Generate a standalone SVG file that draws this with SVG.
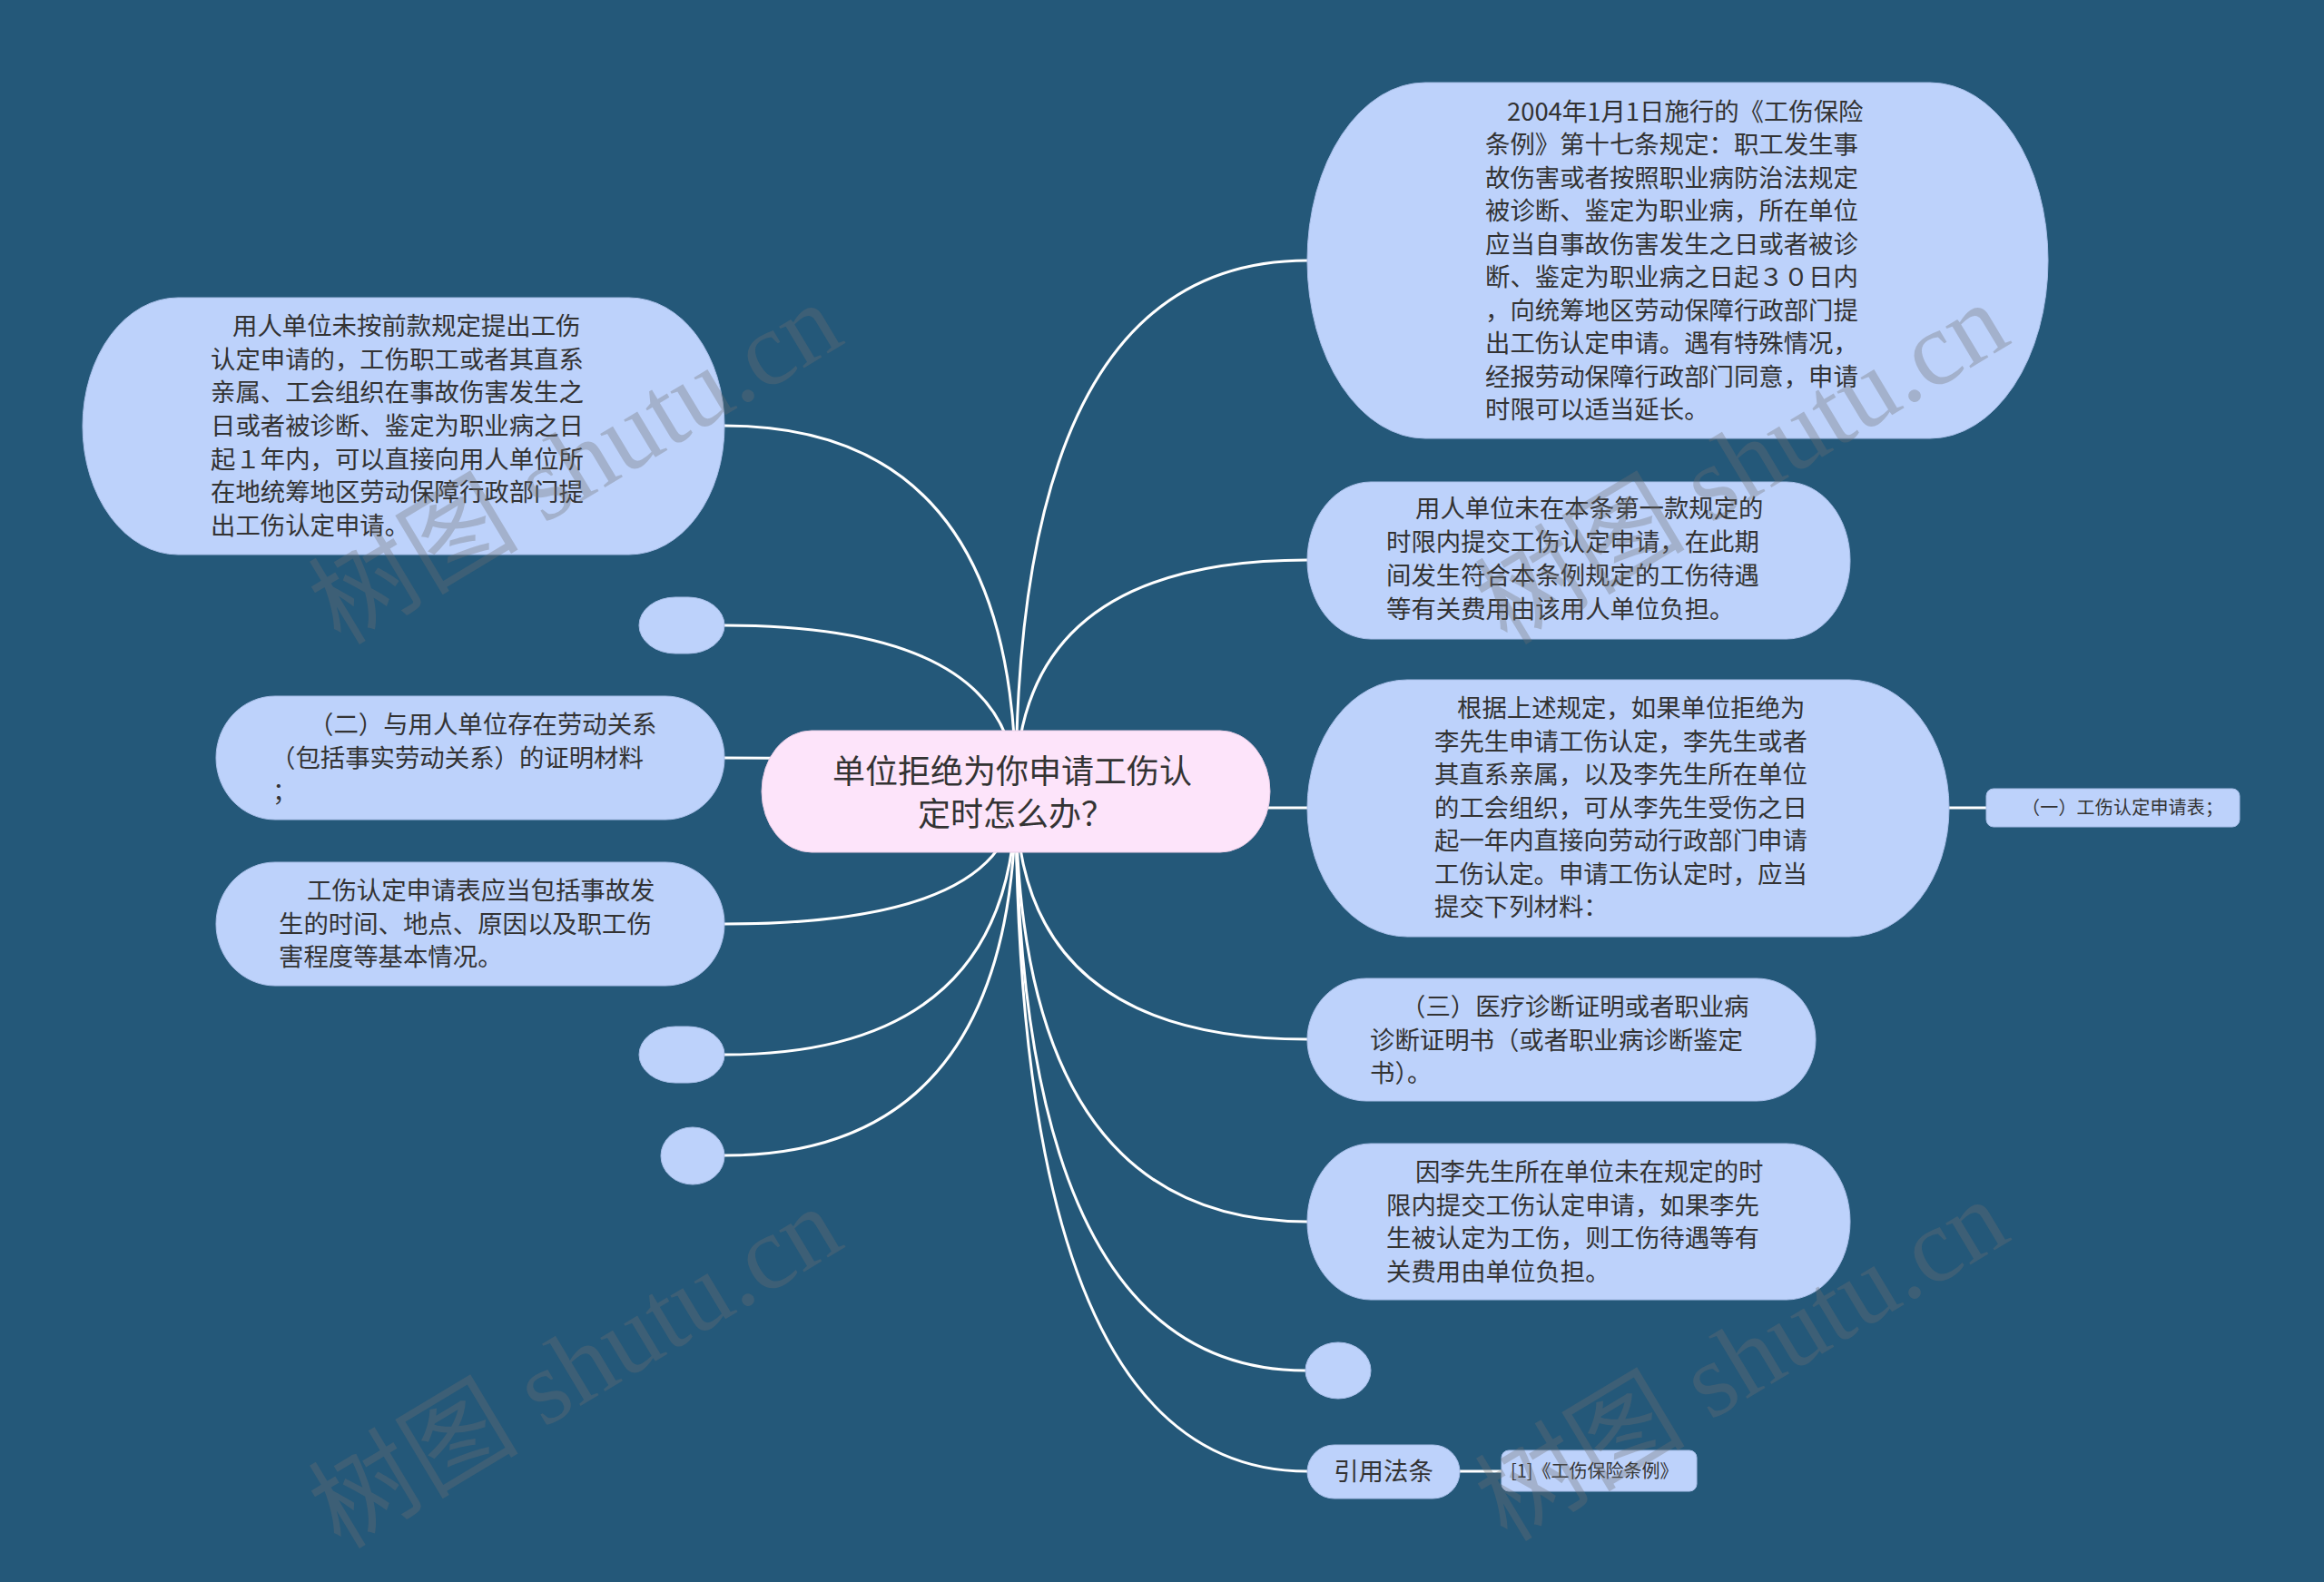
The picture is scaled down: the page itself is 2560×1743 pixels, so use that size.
<svg xmlns="http://www.w3.org/2000/svg" width="2560" height="1743" viewBox="0 0 2560 1743">
<style>
.bg{fill:#245879}
.n{fill:#bdd2fb;stroke:#a9bfe9;stroke-width:1}
.root{fill:#fde4fa;stroke:#e9cde6;stroke-width:1}
.t{font-family:"Noto Sans CJK SC","Noto Sans",sans-serif;font-size:27.4px;fill:#333333}
.ts{font-family:"Noto Sans CJK SC","Noto Sans",sans-serif;font-size:20px;fill:#333333}
.tr{font-family:"Noto Sans CJK SC","Noto Sans",sans-serif;font-size:36px;fill:#333333;text-anchor:middle}
.c{fill:none;stroke:#ffffff;stroke-width:3}
.wm{font-family:"Liberation Serif","Noto Sans CJK SC",serif;font-size:116px;fill:#707070;opacity:0.33}
</style>
<rect class="bg" x="0" y="0" width="2560" height="1743"/>

<g id="connectors">
<path class="c" d="M1119,872 Q1119,287 1440,287"/>
<path class="c" d="M1119,872 Q1119,617 1440,617"/>
<path class="c" d="M1119,872 Q1119,890 1440,890"/>
<path class="c" d="M1119,872 Q1119,1145 1440,1145"/>
<path class="c" d="M1119,872 Q1119,1346 1440,1346"/>
<path class="c" d="M1119,872 Q1119,1510 1438,1510"/>
<path class="c" d="M1119,872 Q1119,1621 1440,1621"/>
<path class="c" d="M1119,872 Q1119,469 798,469"/>
<path class="c" d="M1119,872 Q1119,689 798,689"/>
<path class="c" d="M1119,872 Q1119,835 798,835"/>
<path class="c" d="M1119,872 Q1119,1018 798,1018"/>
<path class="c" d="M1119,872 Q1119,1162 798,1162"/>
<path class="c" d="M1119,872 Q1119,1273 798,1273"/>
<path class="c" d="M2147,890 L2188,890"/>
<path class="c" d="M1608,1621 L1654,1621"/>
</g>

<g id="node-tr">
<rect class="n" x="1440" y="91" width="816" height="392" rx="130" ry="196"/>
<text class="t">
<tspan x="1660" y="132.5">2004年1月1日施行的《工伤保险</tspan>
<tspan x="1636" y="169">条例》第十七条规定：职工发生事</tspan>
<tspan x="1636" y="205.5">故伤害或者按照职业病防治法规定</tspan>
<tspan x="1636" y="242">被诊断、鉴定为职业病，所在单位</tspan>
<tspan x="1636" y="278.5">应当自事故伤害发生之日或者被诊</tspan>
<tspan x="1636" y="315">断、鉴定为职业病之日起３０日内</tspan>
<tspan x="1636" y="351.5">，向统筹地区劳动保障行政部门提</tspan>
<tspan x="1636" y="388">出工伤认定申请。遇有特殊情况，</tspan>
<tspan x="1636" y="424.5">经报劳动保障行政部门同意，申请</tspan>
<tspan x="1636" y="461">时限可以适当延长。</tspan>
</text>
</g>

<g id="node-r2">
<rect class="n" x="1440" y="531" width="598" height="173" rx="70" ry="86.5"/>
<text class="t">
<tspan x="1559" y="570">用人单位未在本条第一款规定的</tspan>
<tspan x="1527" y="607">时限内提交工伤认定申请，在此期</tspan>
<tspan x="1527" y="644">间发生符合本条例规定的工伤待遇</tspan>
<tspan x="1527" y="681">等有关费用由该用人单位负担。</tspan>
</text>
</g>

<g id="node-r3">
<rect class="n" x="1440" y="749" width="707" height="283" rx="110" ry="141.5"/>
<text class="t">
<tspan x="1605" y="790">根据上述规定，如果单位拒绝为</tspan>
<tspan x="1580" y="826.5">李先生申请工伤认定，李先生或者</tspan>
<tspan x="1580" y="863">其直系亲属，以及李先生所在单位</tspan>
<tspan x="1580" y="899.5">的工会组织，可从李先生受伤之日</tspan>
<tspan x="1580" y="936">起一年内直接向劳动行政部门申请</tspan>
<tspan x="1580" y="972.5">工伤认定。申请工伤认定时，应当</tspan>
<tspan x="1580" y="1009">提交下列材料：</tspan>
</text>
</g>

<g id="node-r3a">
<rect class="n" x="2188" y="869" width="279" height="42" rx="8" ry="8"/>
<text class="ts" x="2227" y="897" textLength="222">（一）工伤认定申请表；</text>
</g>

<g id="node-r4">
<rect class="n" x="1440" y="1078" width="560" height="135" rx="65" ry="67.5"/>
<text class="t">
<tspan x="1543" y="1119">（三）医疗诊断证明或者职业病</tspan>
<tspan x="1509" y="1155.5">诊断证明书（或者职业病诊断鉴定</tspan>
<tspan x="1509" y="1192">书）。</tspan>
</text>
</g>

<g id="node-r5">
<rect class="n" x="1440" y="1260" width="598" height="172" rx="70" ry="86"/>
<text class="t">
<tspan x="1559" y="1301">因李先生所在单位未在规定的时</tspan>
<tspan x="1527" y="1337.5">限内提交工伤认定申请，如果李先</tspan>
<tspan x="1527" y="1374">生被认定为工伤，则工伤待遇等有</tspan>
<tspan x="1527" y="1410.5">关费用由单位负担。</tspan>
</text>
</g>

<g id="node-r6">
<rect class="n" x="1438" y="1479" width="72" height="62" rx="36" ry="31"/>
</g>

<g id="node-cite">
<rect class="n" x="1440" y="1592" width="168" height="59" rx="29.5" ry="29.5"/>
<text class="t" x="1524" y="1631" text-anchor="middle">引用法条</text>
</g>

<g id="node-ref">
<rect class="n" x="1654" y="1598" width="215" height="45" rx="8" ry="8"/>
<text class="ts" x="1664" y="1628">[1]《工伤保险条例》</text>
</g>

<g id="node-l1">
<rect class="n" x="91" y="328" width="707" height="283" rx="105" ry="141.5"/>
<text class="t">
<tspan x="256" y="369">用人单位未按前款规定提出工伤</tspan>
<tspan x="232" y="405.7">认定申请的，工伤职工或者其直系</tspan>
<tspan x="232" y="442.3">亲属、工会组织在事故伤害发生之</tspan>
<tspan x="232" y="479">日或者被诊断、鉴定为职业病之日</tspan>
<tspan x="232" y="515.6">起１年内，可以直接向用人单位所</tspan>
<tspan x="232" y="552.3">在地统筹地区劳动保障行政部门提</tspan>
<tspan x="232" y="589">出工伤认定申请。</tspan>
</text>
</g>

<g id="node-l2">
<rect class="n" x="704" y="658" width="94" height="62" rx="40" ry="31"/>
</g>

<g id="node-l3">
<rect class="n" x="238" y="767" width="560" height="136" rx="65" ry="68"/>
<text class="t">
<tspan x="340" y="808">（二）与用人单位存在劳动关系</tspan>
<tspan x="298" y="845">（包括事实劳动关系）的证明材料</tspan>
<tspan x="300" y="882">；</tspan>
</text>
</g>

<g id="node-l4">
<rect class="n" x="238" y="950" width="560" height="136" rx="65" ry="68"/>
<text class="t">
<tspan x="338" y="991">工伤认定申请表应当包括事故发</tspan>
<tspan x="307" y="1027.5">生的时间、地点、原因以及职工伤</tspan>
<tspan x="307" y="1064">害程度等基本情况。</tspan>
</text>
</g>

<g id="node-l5">
<rect class="n" x="704" y="1131" width="94" height="62" rx="40" ry="31"/>
</g>

<g id="node-l6">
<rect class="n" x="728" y="1242" width="70" height="63" rx="35" ry="31.5"/>
</g>

<g id="node-root">
<rect class="root" x="839" y="805" width="560" height="134" rx="55" ry="67"/>
<text class="tr">
<tspan x="1119" y="862.5">单位拒绝为你申请工伤认</tspan>
<tspan x="1119" y="909.5">定时怎么办？</tspan>
</text>
</g>

<g id="watermarks">
<text class="wm" x="375" y="712" transform="rotate(-31 375 712)">树图 shutu.cn</text>
<text class="wm" x="1660" y="712" transform="rotate(-31 1660 712)">树图 shutu.cn</text>
<text class="wm" x="375" y="1708" transform="rotate(-31 375 1708)">树图 shutu.cn</text>
<text class="wm" x="1660" y="1700" transform="rotate(-31 1660 1700)">树图 shutu.cn</text>
</g>
</svg>
